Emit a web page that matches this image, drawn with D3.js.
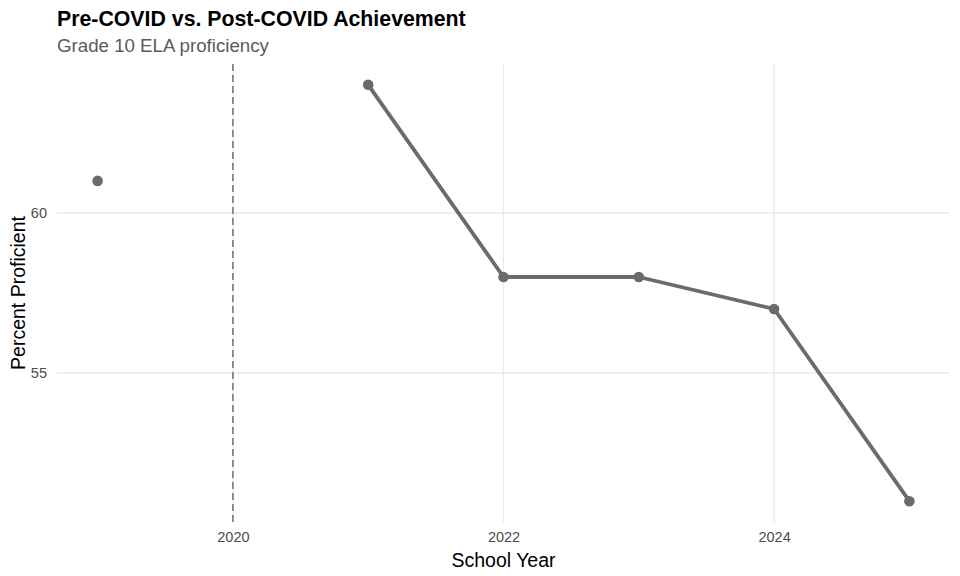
<!DOCTYPE html>
<html><head><meta charset="utf-8">
<script src="https://cdn.jsdelivr.net/npm/d3@7"></script>
<style>body{margin:0;background:#fff}svg{display:block;font-family:"Liberation Sans",Arial,sans-serif}</style>
</head><body><svg id="c" width="960" height="576"></svg>
<script>
const preYears = [2019];
const preValues = [61];
const postYears = [2021, 2022, 2023, 2024, 2025];
const postValues = [64, 58, 58, 57, 51];
const xTicks = [2020, 2022, 2024];
const yTicks = [55, 60];
const covidYear = 2020;

const svg = d3.select("#c");
const L = 57, R = 950, T = 64, B = 522;
const x = d3.scaleLinear().domain([2018.7, 2025.3]).range([L, R]);
const y = d3.scaleLinear().domain([50.35, 64.65]).range([B, T]);
const col = "#6b6b6b";

// grid
svg.append("g").selectAll("line").data(yTicks).join("line")
  .attr("x1", L).attr("x2", R).attr("y1", d => y(d)).attr("y2", d => y(d))
  .attr("stroke", "#ebebeb").attr("stroke-width", 1.4);
svg.append("g").selectAll("line").data(xTicks).join("line")
  .attr("y1", T).attr("y2", B).attr("x1", d => x(d)).attr("x2", d => x(d))
  .attr("stroke", "#ebebeb").attr("stroke-width", 1.4);

// axes (labels only)
const xa = svg.append("g").attr("transform", `translate(0,${B})`)
  .call(d3.axisBottom(x).tickValues(xTicks).tickFormat(d3.format("d")).tickSize(0).tickPadding(10));
const ya = svg.append("g").attr("transform", `translate(${L},0)`)
  .call(d3.axisLeft(y).tickValues(yTicks).tickFormat(d3.format("d")).tickSize(0).tickPadding(10));
[xa, ya].forEach(a => {
  a.select(".domain").remove();
  a.selectAll("text").attr("fill", "#4d4d4d").attr("font-size", 14.5).attr("font-family", "Liberation Sans, Arial, sans-serif");
});

// covid dashed line
svg.append("line").attr("x1", x(covidYear)).attr("x2", x(covidYear)).attr("y1", T).attr("y2", B)
  .attr("stroke", "#7f7f7f").attr("stroke-width", 1.7).attr("stroke-dasharray", "7,4");

// post line
const post = postYears.map((yr, i) => ({yr, v: postValues[i]}));
const pre = preYears.map((yr, i) => ({yr, v: preValues[i]}));
svg.append("path").datum(post)
  .attr("d", d3.line().x(d => x(d.yr)).y(d => y(d.v)))
  .attr("fill", "none").attr("stroke", col).attr("stroke-width", 3.8).attr("stroke-linejoin", "round");
svg.append("g").selectAll("circle").data(pre.concat(post)).join("circle")
  .attr("cx", d => x(d.yr)).attr("cy", d => y(d.v)).attr("r", 5.3).attr("fill", col);

// titles
svg.append("text").attr("x", 57).attr("y", 26).attr("font-size", 21.3).attr("font-weight", "bold").attr("fill", "#000")
  .text("Pre-COVID vs. Post-COVID Achievement");
svg.append("text").attr("x", 57).attr("y", 52).attr("font-size", 18.7).attr("fill", "#5a5a5a")
  .text("Grade 10 ELA proficiency");
svg.append("text").attr("x", (L + R) / 2).attr("y", 567).attr("text-anchor", "middle").attr("font-size", 19.5).attr("fill", "#000")
  .text("School Year");
svg.append("text").attr("transform", `translate(25,${(T + B) / 2}) rotate(-90)`).attr("text-anchor", "middle").attr("font-size", 19.5).attr("fill", "#000")
  .text("Percent Proficient");
</script></body></html>
